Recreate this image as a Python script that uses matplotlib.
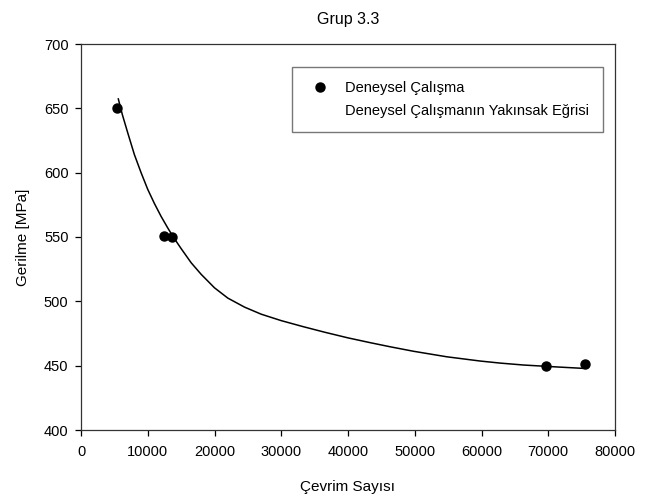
import numpy as np
import matplotlib
matplotlib.use("Agg")
import matplotlib.pyplot as plt
from matplotlib.lines import Line2D

plt.rcParams['font.family'] = ['Liberation Sans', 'DejaVu Sans']

# Deney noktaları (okunan değerler)
cevrim = [5400, 12400, 13600, 69600, 75500]
gerilme = [650.5, 550.5, 550.0, 449.5, 451.0]

# Yakınsak eğri (resimden okunan noktalar)
egri_x = [5590, 6200, 7000, 8000, 9000, 10000, 11000, 12000, 13000, 13800,
          15000, 16500, 18000, 20000, 22000, 24500, 27000, 30000, 33300,
          36500, 40000, 43300, 46300, 49800, 54800, 59800, 62800, 66300,
          71300, 75250]
egri_y = [657.3, 645.0, 631.0, 614.0, 600.0, 587.0, 576.0, 566.0, 557.0, 550.2,
          541.0, 530.0, 521.0, 510.5, 502.5, 495.5, 490.0, 485.0, 480.3,
          476.0, 471.6, 467.9, 464.7, 461.2, 456.9, 453.6, 452.0, 450.5,
          449.0, 447.9]

fig = plt.figure(figsize=(6.52, 5.01), dpi=100)
ax = fig.add_axes([81/652, 71/501, 534/652, 386/501])

ax.plot(egri_x, egri_y, color='black', linewidth=1.1, zorder=3,
        solid_joinstyle='round')
ax.plot(cevrim, gerilme, linestyle='none', marker='o', color='black',
        markersize=6.5, zorder=2)

ax.set_xlim(0, 80000)
ax.set_ylim(400, 700)
ax.set_xticks(range(0, 80001, 10000))
ax.set_yticks(range(400, 701, 50))
ax.tick_params(direction='out', length=4, width=0.9, labelsize=10.5)
ax.tick_params(axis='x', pad=7)
ax.tick_params(axis='y', pad=5)
for s in ax.spines.values():
    s.set_color('#333333')
    s.set_linewidth(0.9)

ax.set_title("Grup 3.3", fontsize=11.5, pad=14.5)
ax.set_xlabel("Çevrim Sayısı", fontsize=11, labelpad=15)
ax.set_ylabel("Gerilme [MPa]", fontsize=11, labelpad=10)

handles = [Line2D([], [], linestyle='none', marker='o', color='black', markersize=6.5),
           Line2D([], [], linestyle='none')]
leg = ax.legend(handles, ["Deneysel Çalışma", "Deneysel Çalışmanın Yakınsak Eğrisi"],
                loc='upper right', bbox_to_anchor=(0.9775, 0.9404),
                fontsize=10.5, frameon=True, fancybox=False, borderpad=0.95,
                handletextpad=0.7, labelspacing=0.65, borderaxespad=0)
leg.get_frame().set_edgecolor('#555555')
leg.get_frame().set_linewidth(1.0)

fig.savefig("out.png", dpi=100)
